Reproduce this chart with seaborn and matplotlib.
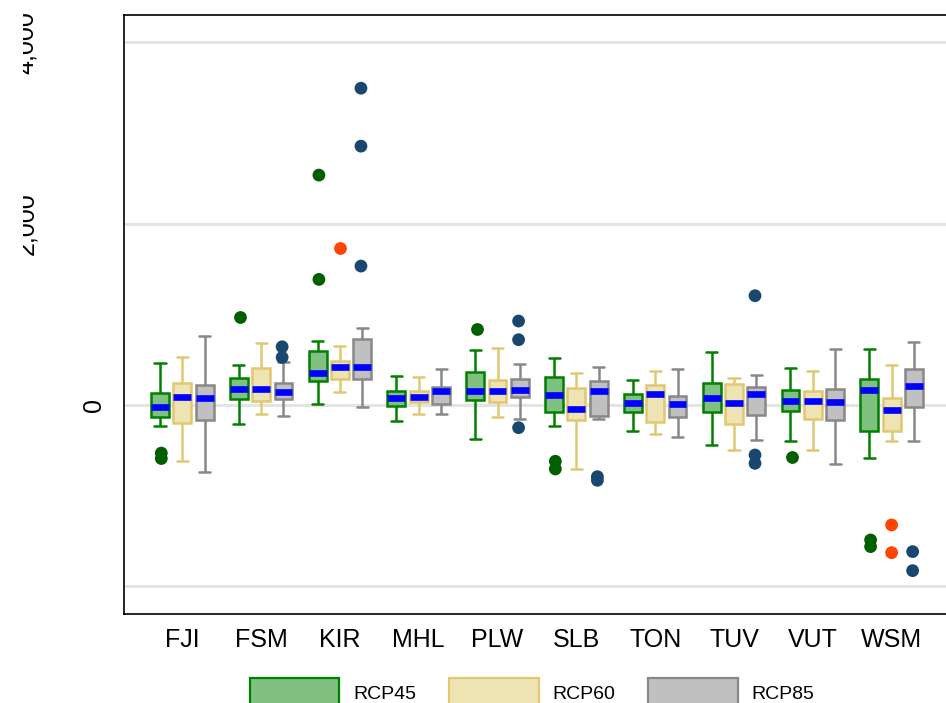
import numpy as np
import pandas as pd
import matplotlib
matplotlib.use("Agg")
import matplotlib.pyplot as plt
import matplotlib.transforms as mtransforms
from matplotlib.patches import Patch
import seaborn as sns

# Countries and scenarios
countries = ["FJI", "FSM", "KIR", "MHL", "PLW", "SLB", "TON", "TUV", "VUT", "WSM"]
scenarios = ["RCP45", "RCP60", "RCP85"]

# Box statistics: lower whisker, Q1, median, Q3, upper whisker
rcp45_lo = [-231, -206, 11, -176, -375, -228, -283, -437, -397, -580]
rcp45_q1 = [-129, 66, 264, -7, 52, -81, -77, -77, -70, -290]
rcp45_med = [-25, 173, 356, 74, 151, 110, 25, 74, 41, 165]
rcp45_q3 = [129, 294, 599, 154, 364, 305, 118, 242, 165, 283]
rcp45_hi = [460, 437, 709, 323, 602, 522, 272, 588, 408, 617]

rcp60_lo = [-614, -103, 140, -103, -129, -709, -320, -496, -496, -400]
rcp60_q1 = [-202, 47, 283, 30, 30, -165, -187, -213, -158, -290]
rcp60_med = [91, 173, 422, 88, 158, -44, 118, 18, 41, -58]
rcp60_q3 = [239, 404, 488, 158, 272, 184, 224, 231, 151, 77]
rcp60_hi = [525, 683, 650, 312, 624, 349, 375, 294, 375, 437]

rcp85_lo = [-742, -121, -19, -103, -158, -158, -353, -382, -647, -400]
rcp85_q1 = [-165, 62, 283, 15, 92, -121, -129, -110, -165, -25]
rcp85_med = [80, 143, 415, 154, 165, 151, 14, 125, 33, 213]
rcp85_q3 = [220, 246, 727, 195, 283, 264, 103, 198, 180, 400]
rcp85_hi = [760, 470, 849, 393, 452, 422, 400, 331, 620, 691]

# Outliers (country, value)
rcp45_out = [("FJI", -530), ("FJI", -590), ("FSM", 973), ("KIR", 1385), ("KIR", 2535),
             ("PLW", 838), ("SLB", -620), ("SLB", -705), ("VUT", -569),
             ("WSM", -1488), ("WSM", -1561)]
rcp60_out = [("KIR", 1733), ("WSM", -1322), ("WSM", -1628)]
rcp85_out = [("FSM", 525), ("FSM", 642), ("KIR", 1532), ("KIR", 2854), ("KIR", 3493),
             ("PLW", -250), ("PLW", 720), ("PLW", 926), ("SLB", -790), ("SLB", -830),
             ("TUV", -551), ("TUV", -643), ("TUV", 1205), ("WSM", -1616), ("WSM", -1826)]

yticks = [-2000, 0, 2000, 4000]
ytick_labels = ["", "0", "2,000", "4,000"]

fill_colors = ["#80C080", "#EEE3B3", "#C0C0C0"]
edge_colors = ["#008000", "#E0C870", "#888888"]
outlier_colors = ["#006000", "#FF4500", "#1A476F"]

stats = {
    "RCP45": [rcp45_lo, rcp45_q1, rcp45_med, rcp45_q3, rcp45_hi],
    "RCP60": [rcp60_lo, rcp60_q1, rcp60_med, rcp60_q3, rcp60_hi],
    "RCP85": [rcp85_lo, rcp85_q1, rcp85_med, rcp85_q3, rcp85_hi],
}
outliers = {"RCP45": rcp45_out, "RCP60": rcp60_out, "RCP85": rcp85_out}

rows = []
for scen, cols in stats.items():
    for i, c in enumerate(countries):
        for arr in cols:
            rows.append({"country": c, "scenario": scen, "value": arr[i]})
box_df = pd.DataFrame(rows)

out_df = pd.DataFrame(
    [{"country": c, "scenario": s, "value": v} for s, lst in outliers.items() for c, v in lst]
)

sns.set_style("white")
plt.rcParams["font.family"] = ["Liberation Sans", "DejaVu Sans"]
plt.rcParams["text.color"] = "black"
plt.rcParams["xtick.color"] = "black"
plt.rcParams["ytick.color"] = "black"

fig = plt.figure(figsize=(9.46, 7.03), dpi=100)
ax = fig.add_axes([124 / 946, 89 / 703, 822 / 946, 599 / 703])

sns.boxplot(
    data=box_df, x="country", y="value", hue="scenario",
    order=countries, hue_order=scenarios, palette=fill_colors,
    saturation=1, width=0.85, gap=0.2, whis=(0, 100), showfliers=False,
    linewidth=1.8, legend=False, ax=ax,
    medianprops={"color": "#0000FF", "linewidth": 4.8, "solid_capstyle": "butt"},
    capwidths=0.14,
)

# per-scenario edge colours
for cont, ec in zip(ax.containers, edge_colors):
    for b in cont.boxes:
        b.set_edgecolor(ec)
    for ln in list(cont.whiskers) + list(cont.caps):
        ln.set_color(ec)
    for m in cont.medians:
        m.set_color("#0000FF")
        m.set_zorder(5)

sns.stripplot(
    data=out_df, x="country", y="value", hue="scenario",
    order=countries, hue_order=scenarios, palette=outlier_colors,
    dodge=True, jitter=False, size=9.2, linewidth=0, legend=False, ax=ax,
)

ax.set_xlim(-0.74, 9.69)
ax.set_ylim(-2304, 4300)
ax.set_xlabel("")
ax.set_ylabel("")

ax.set_yticks(yticks, labels=ytick_labels)
ax.tick_params(axis="y", length=7, width=1, pad=6, labelsize=18, labelrotation=90,
               color="black", labelcolor="black")
ax.tick_params(axis="x", length=0, pad=10, labelsize=18, labelcolor="black")

clip = mtransforms.TransformedBbox(mtransforms.Bbox([[23 / 946, 0], [1, 1]]), fig.transFigure)
shift = mtransforms.ScaledTranslation(-68 / 100, 0, fig.dpi_scale_trans)
for lab, txt in zip(ax.get_yticklabels(), ytick_labels):
    lab.set_va("center")
    if txt not in ("", "0"):
        lab.set_transform(lab.get_transform() + shift)
        lab.set_clip_box(clip)
        lab.set_clip_on(True)

ax.yaxis.grid(True, color="#E4E4E4", linewidth=2.2)
ax.xaxis.grid(False)
ax.set_axisbelow(True)

for side in ["left", "bottom", "top"]:
    ax.spines[side].set_visible(True)
    ax.spines[side].set_color("black")
    ax.spines[side].set_linewidth(1.2)
ax.spines["right"].set_visible(False)

handles = [Patch(facecolor=f, edgecolor=e, linewidth=1.6) for f, e in zip(fill_colors, edge_colors)]
fig.legend(
    handles, scenarios, loc="upper left", bbox_to_anchor=(250 / 946, 1 - 678 / 703),
    ncol=3, frameon=False, fontsize=14, handlelength=4.6, handleheight=1.9,
    handletextpad=0.7, columnspacing=1.7, borderpad=0, borderaxespad=0,
    labelcolor="black",
)

fig.savefig("out.png", dpi=100)
